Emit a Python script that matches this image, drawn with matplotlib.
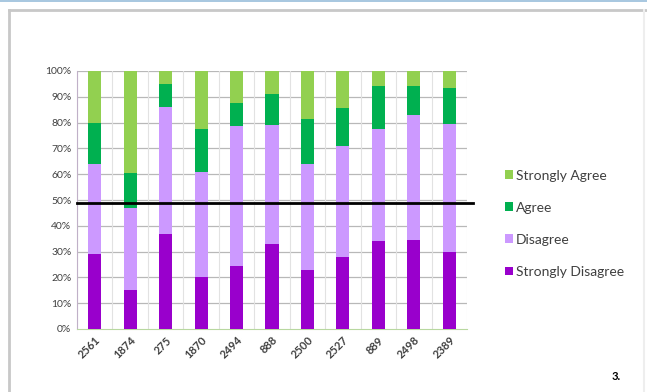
import matplotlib
matplotlib.use("Agg")
import matplotlib.pyplot as plt
from matplotlib.patches import Rectangle
from matplotlib.lines import Line2D
import numpy as np

plt.rcParams['font.family'] = ['Lato', 'DejaVu Sans']

categories = ["2561", "1874", "275", "1870", "2494", "888", "2500", "2527", "889", "2498", "2389"]
strongly_disagree = [29, 15, 37, 20, 24.5, 33, 23, 28, 34, 34.5, 30]
disagree = [35, 32, 49, 41, 54, 46, 41, 43, 43.5, 48.5, 49.5]
agree = [16, 13.5, 9, 16.5, 9, 12, 17.5, 14.5, 16.5, 11, 14]
strongly_agree = [20, 39.5, 5, 22.5, 12.5, 9, 18.5, 14.5, 6, 6, 6.5]
reference_level = 49

colors = {
    "Strongly Agree": "#92D050",
    "Agree": "#00B050",
    "Disagree": "#CC99FF",
    "Strongly Disagree": "#9900CC",
}

fig = plt.figure(figsize=(6.47, 3.92), dpi=100)

# outer frame of the chart panel
fig.patches.append(Rectangle((0, 0.995), 1, 0.005, transform=fig.transFigure,
                             facecolor="#a9c8e0", edgecolor="none"))
fig.add_artist(Line2D([9/647, 9/647], [0, 1 - 10/392], transform=fig.transFigure,
                      color="#c8c8c8", lw=2))
fig.add_artist(Line2D([9/647, 1], [1 - 10/392, 1 - 10/392], transform=fig.transFigure,
                      color="#c8c8c8", lw=2))
fig.add_artist(Line2D([644/647, 644/647], [0, 1 - 10/392], transform=fig.transFigure,
                      color="#eeeeee", lw=1.5))

ax = fig.add_axes([77/647, 63/392, 390/647, 258/392])
x = np.arange(len(categories))
w = 0.37

sd = np.array(strongly_disagree)
d = np.array(disagree)
a = np.array(agree)
sa = np.array(strongly_agree)

ax.bar(x, sd, w, color=colors["Strongly Disagree"], label="Strongly Disagree", zorder=3)
ax.bar(x, d, w, bottom=sd, color=colors["Disagree"], label="Disagree", zorder=3)
ax.bar(x, a, w, bottom=sd + d, color=colors["Agree"], label="Agree", zorder=3)
ax.bar(x, sa, w, bottom=sd + d + a, color=colors["Strongly Agree"], label="Strongly Agree", zorder=3)

ax.set_xlim(-0.5, len(categories) - 0.5)
ax.set_ylim(0, 100)
ax.set_yticks(np.arange(0, 101, 10))
ax.set_yticklabels([f"{v}%" for v in range(0, 101, 10)], fontsize=7.5, color="#404040")
ax.set_xticks(x)
ax.set_xticklabels(categories, rotation=45, ha="right", rotation_mode="anchor",
                   fontsize=8, color="#404040", fontweight="bold")
ax.tick_params(axis="both", length=0, pad=4)

# grid: horizontal at every 10%, vertical between categories
for v in range(10, 101, 10):
    ax.axhline(v, color="#b8b8b8", lw=0.9, zorder=1)
for b in np.arange(-0.5, len(categories), 1.0):
    ax.axvline(b, color="#e2e2e2", lw=0.8, zorder=1)

for side in ["top", "right"]:
    ax.spines[side].set_visible(False)
ax.spines["left"].set_color("#c0b0c8")
ax.spines["bottom"].set_color("#b8d8a0")

# reference line slightly past the plot area
ax.plot([-0.5, len(categories) - 0.33], [reference_level, reference_level],
        color="black", lw=2, zorder=5, clip_on=False)

handles, labels = ax.get_legend_handles_labels()
order = [3, 2, 1, 0]
leg = fig.legend([handles[i] for i in order], [labels[i] for i in order],
                 loc="upper left", bbox_to_anchor=(492/647, 1 - 157/392),
                 frameon=False, fontsize=10, handlelength=0.6, handleheight=0.6,
                 handletextpad=0.2, labelspacing=1.45, labelcolor="#404040")

fig.text(612/647, 1 - 376/392, "3.", fontsize=8, fontweight="bold", color="black",
         va="center", ha="left")

fig.savefig("out.png", dpi=100)
